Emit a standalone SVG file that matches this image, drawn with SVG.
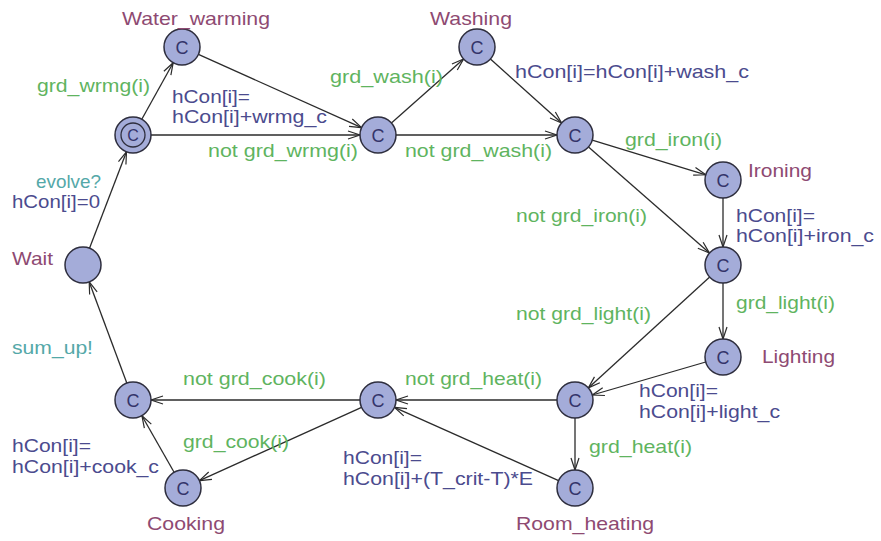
<svg xmlns="http://www.w3.org/2000/svg" width="881" height="541" viewBox="0 0 881 541">
  <defs>
    <marker id="arrow" markerUnits="userSpaceOnUse" markerWidth="16" markerHeight="12" refX="0" refY="0" viewBox="-13 -6 16 12" orient="auto" overflow="visible">
      <path d="M-12,-4 L0,0 L-12,4" fill="none" stroke="#2b2b2b" stroke-width="1.2"/>
    </marker>
  </defs>
  <style>
    text { font-family: "Liberation Sans", Arial, sans-serif; font-size: 18.5px; }
    .loc { fill: #8e4a72; }
    .grd { fill: #5fb45f; }
    .upd { fill: #4b4b8e; }
    .sync { fill: #54a8a8; }
    .node circle { fill: #a4acd9; stroke: #2e2e3e; stroke-width: 1.5; }
    .node circle.ring { fill: none; stroke-width: 1.3; }
    .node text { fill: #34346a; font-size: 18px; text-anchor: middle; }
    .edges line { stroke: #2b2b2b; stroke-width: 1.3; marker-end: url(#arrow); }
  </style>
  <rect width="881" height="541" fill="#ffffff"/>

  <!-- transitions -->
  <g id="edges" class="edges">
    <line x1="89.5" y1="248.2" x2="126.5" y2="151.8"/>
    <line x1="141.8" y1="119.3" x2="173.2" y2="62.7"/>
    <line x1="151" y1="135" x2="360" y2="135"/>
    <line x1="198.4" y1="54.4" x2="361.6" y2="127.6"/>
    <line x1="391.4" y1="123" x2="463.6" y2="59"/>
    <line x1="396" y1="135" x2="557" y2="135"/>
    <line x1="490.4" y1="59" x2="561.6" y2="123"/>
    <line x1="592.2" y1="140.2" x2="705.8" y2="174.8"/>
    <line x1="588.5" y1="146.9" x2="709.5" y2="253.1"/>
    <line x1="723" y1="198" x2="723" y2="247"/>
    <line x1="723" y1="283" x2="723" y2="339"/>
    <line x1="709.7" y1="277.1" x2="588.3" y2="387.9"/>
    <line x1="705.7" y1="362" x2="592.3" y2="395"/>
    <line x1="557" y1="400" x2="396" y2="400"/>
    <line x1="575" y1="418" x2="575" y2="470"/>
    <line x1="558.6" y1="480.7" x2="394.4" y2="407.3"/>
    <line x1="360" y1="400" x2="151" y2="400"/>
    <line x1="361.6" y1="407.4" x2="199.4" y2="480.6"/>
    <line x1="174.1" y1="472.3" x2="141.9" y2="415.7"/>
    <line x1="126.8" y1="383.1" x2="89.2" y2="281.9"/>
  </g>

  <!-- locations -->
  <g id="wait" class="node"><circle cx="83" cy="265" r="18"/></g>
  <g id="init" class="node">
    <circle cx="133" cy="135" r="18"/>
    <circle class="ring" cx="133" cy="135" r="12"/>
    <text x="133" y="141" style="font-size:16px">C</text>
  </g>
  <g id="water_warming" class="node"><circle cx="182" cy="47" r="18"/><text x="182" y="53.5">C</text></g>
  <g id="after_warming" class="node"><circle cx="378" cy="135" r="18"/><text x="378" y="141.5">C</text></g>
  <g id="washing" class="node"><circle cx="477" cy="47" r="18"/><text x="477" y="53.5">C</text></g>
  <g id="after_washing" class="node"><circle cx="575" cy="135" r="18"/><text x="575" y="141.5">C</text></g>
  <g id="ironing" class="node"><circle cx="723" cy="180" r="18"/><text x="723" y="186.5">C</text></g>
  <g id="after_ironing" class="node"><circle cx="723" cy="265" r="18"/><text x="723" y="271.5">C</text></g>
  <g id="lighting" class="node"><circle cx="723" cy="357" r="18"/><text x="723" y="363.5">C</text></g>
  <g id="after_lighting" class="node"><circle cx="575" cy="400" r="18"/><text x="575" y="406.5">C</text></g>
  <g id="room_heating" class="node"><circle cx="575" cy="488" r="18"/><text x="575" y="494.5">C</text></g>
  <g id="after_heating" class="node"><circle cx="378" cy="400" r="18"/><text x="378" y="406.5">C</text></g>
  <g id="after_cooking" class="node"><circle cx="133" cy="400" r="18"/><text x="133" y="406.5">C</text></g>
  <g id="cooking" class="node"><circle cx="183" cy="488" r="18"/><text x="183" y="494.5">C</text></g>

  <!-- location names -->
  <g id="names">
    <text class="loc" x="122" y="25" textLength="148" lengthAdjust="spacingAndGlyphs">Water_warming</text>
    <text class="loc" x="430" y="25" textLength="82" lengthAdjust="spacingAndGlyphs">Washing</text>
    <text class="loc" x="748" y="177" textLength="64" lengthAdjust="spacingAndGlyphs">Ironing</text>
    <text class="loc" x="762" y="363" textLength="73" lengthAdjust="spacingAndGlyphs">Lighting</text>
    <text class="loc" x="516" y="530" textLength="138" lengthAdjust="spacingAndGlyphs">Room_heating</text>
    <text class="loc" x="147" y="530" textLength="78" lengthAdjust="spacingAndGlyphs">Cooking</text>
    <text class="loc" x="12" y="265" textLength="41" lengthAdjust="spacingAndGlyphs">Wait</text>
  </g>

  <!-- guards, syncs and updates -->
  <g id="labels">
    <text class="sync" x="36" y="188" textLength="65" lengthAdjust="spacingAndGlyphs">evolve?</text>
    <text class="upd" x="12" y="208" textLength="88" lengthAdjust="spacingAndGlyphs">hCon[i]=0</text>
    <text class="grd" x="37" y="92" textLength="113" lengthAdjust="spacingAndGlyphs">grd_wrmg(i)</text>
    <text class="upd" x="172" y="103" textLength="78" lengthAdjust="spacingAndGlyphs">hCon[i]=</text>
    <text class="upd" x="172" y="123" textLength="155" lengthAdjust="spacingAndGlyphs">hCon[i]+wrmg_c</text>
    <text class="grd" x="208" y="157" textLength="150" lengthAdjust="spacingAndGlyphs">not grd_wrmg(i)</text>
    <text class="grd" x="330" y="83" textLength="113" lengthAdjust="spacingAndGlyphs">grd_wash(i)</text>
    <text class="grd" x="405" y="157" textLength="147" lengthAdjust="spacingAndGlyphs">not grd_wash(i)</text>
    <text class="upd" x="515" y="78" textLength="234" lengthAdjust="spacingAndGlyphs">hCon[i]=hCon[i]+wash_c</text>
    <text class="grd" x="625" y="146" textLength="97" lengthAdjust="spacingAndGlyphs">grd_iron(i)</text>
    <text class="grd" x="516" y="222" textLength="131" lengthAdjust="spacingAndGlyphs">not grd_iron(i)</text>
    <text class="upd" x="736" y="222" textLength="79" lengthAdjust="spacingAndGlyphs">hCon[i]=</text>
    <text class="upd" x="736" y="242" textLength="138" lengthAdjust="spacingAndGlyphs">hCon[i]+iron_c</text>
    <text class="grd" x="736" y="309" textLength="99" lengthAdjust="spacingAndGlyphs">grd_light(i)</text>
    <text class="grd" x="516" y="320" textLength="135" lengthAdjust="spacingAndGlyphs">not grd_light(i)</text>
    <text class="upd" x="639" y="397" textLength="79" lengthAdjust="spacingAndGlyphs">hCon[i]=</text>
    <text class="upd" x="639" y="418" textLength="141" lengthAdjust="spacingAndGlyphs">hCon[i]+light_c</text>
    <text class="grd" x="589" y="453" textLength="103" lengthAdjust="spacingAndGlyphs">grd_heat(i)</text>
    <text class="grd" x="405" y="385" textLength="137" lengthAdjust="spacingAndGlyphs">not grd_heat(i)</text>
    <text class="upd" x="343" y="464" textLength="79" lengthAdjust="spacingAndGlyphs">hCon[i]=</text>
    <text class="upd" x="343" y="485" textLength="190" lengthAdjust="spacingAndGlyphs">hCon[i]+(T_crit-T)*E</text>
    <text class="grd" x="183" y="385" textLength="143" lengthAdjust="spacingAndGlyphs">not grd_cook(i)</text>
    <text class="grd" x="183" y="448" textLength="106" lengthAdjust="spacingAndGlyphs">grd_cook(i)</text>
    <text class="upd" x="12" y="452" textLength="79" lengthAdjust="spacingAndGlyphs">hCon[i]=</text>
    <text class="upd" x="12" y="473" textLength="147" lengthAdjust="spacingAndGlyphs">hCon[i]+cook_c</text>
    <text class="sync" x="12" y="354" textLength="81" lengthAdjust="spacingAndGlyphs">sum_up!</text>
  </g>
</svg>
